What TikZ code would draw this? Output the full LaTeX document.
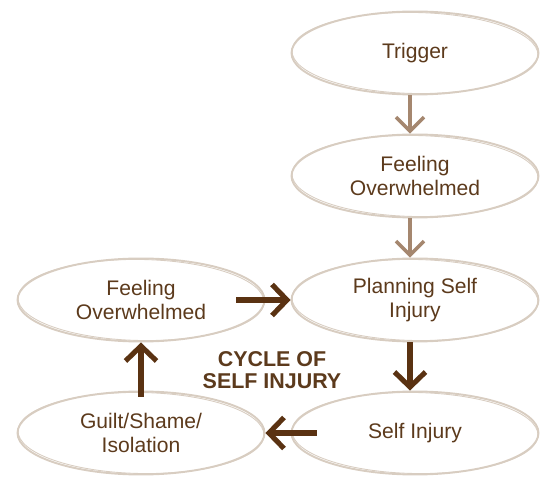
\documentclass[tikz,border=0pt]{standalone}
\usepackage{fontspec}
\setmainfont{Liberation Sans}
\usetikzlibrary{shapes.geometric,arrows.meta}

\definecolor{ring}{HTML}{D8CDC1}
\definecolor{ink}{HTML}{5C3A1C}
\definecolor{darkbrown}{HTML}{5A3212}
\definecolor{lightbrown}{HTML}{A5876F}

\begin{document}
\begin{tikzpicture}[x=0.02cm, y=-0.02cm,
		bubble/.style={ellipse, draw=ring, line width=1.1pt, inner sep=0pt,
			minimum width=4.94cm, minimum height=1.66cm, align=center, text=ink,
			font=\fontsize{12}{13.4}\selectfont},
		lightarrow/.style={draw=lightbrown, line width=2pt, -{Straight Barb[length=0.28cm, width=0.56cm]}},
		darkarrow/.style={draw=darkbrown, line width=2.9pt, -{Straight Barb[length=0.3cm, width=0.62cm]}}]
		\useasboundingbox (0,0) rectangle (541,479);

		\node (trig) [bubble] at (415,53) {Trigger};
		\node (feel) [bubble] at (415,176) {Feeling\\Overwhelmed};
		\node (plan) [bubble] at (415,300) {Planning Self\\Injury};
		\node (self) [bubble] at (415,433) {Self Injury};
		\node (guilt) [bubble] at (141,433) {Guilt/Shame/\\Isolation};
		\node (feelL) [bubble] at (141,300) {Feeling\\Overwhelmed};

		% rough second stroke on every ring
		\foreach \n in {trig,feel,plan,self,guilt,feelL}
			\draw[ring, line width=0.5pt, rotate around={-1:(\n.center)}] (\n.center) ellipse [x radius=123, y radius=40.5];

		\node (cycle) [text=ink, align=center, font=\fontsize{12.2}{12.2}\selectfont\bfseries] at (272,370) {CYCLE OF\\SELF INJURY};

		\draw[lightarrow] ([xshift=-0.1cm]trig.south) -- ([xshift=-0.1cm]feel.north);
		\draw[lightarrow] ([xshift=-0.1cm]feel.south) -- ([xshift=-0.1cm]plan.north);
		\draw[darkarrow] ([xshift=-0.58cm]feelL.east) -- (plan.west);
		\draw[darkarrow] ([xshift=-0.1cm]plan.south) -- ([xshift=-0.1cm]self.north);
		\draw[darkarrow] ([xshift=0.52cm]self.west) -- (guilt.east);
		\draw[darkarrow] ([yshift=-0.12cm]guilt.north) -- (feelL.south);
	\end{tikzpicture}
\end{document}
